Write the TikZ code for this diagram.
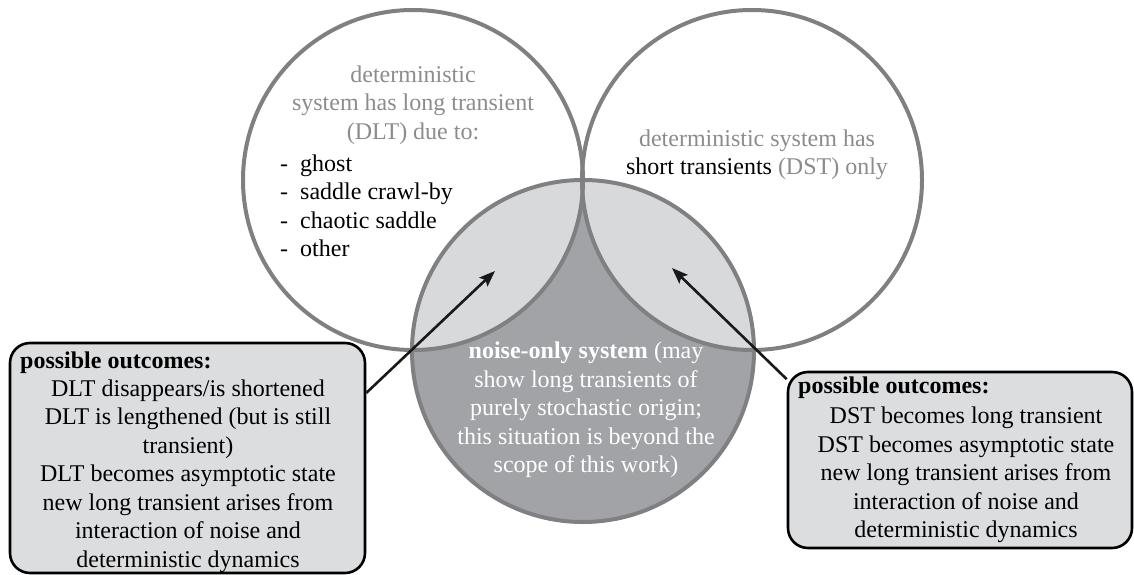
\documentclass[tikz,border=0pt]{standalone}
\usepackage{fontspec}
\setmainfont{Liberation Serif}
\usetikzlibrary{arrows.meta}
\definecolor{circline}{RGB}{128,128,131}
\definecolor{darkfill}{RGB}{161,163,166}
\definecolor{lightfill}{RGB}{216,217,219}
\definecolor{boxfill}{RGB}{220,221,222}
\definecolor{graytext}{RGB}{140,140,142}
\begin{document}
\begin{tikzpicture}[x=1pt,y=-1pt,
  circ/.style={circle, draw=circline, line width=4pt, inner sep=0pt, minimum size=#1},
  outbox/.style={draw=black, line width=2.6pt, fill=boxfill, rounded corners=20pt, inner sep=0pt},
  txt/.style={font=\fontsize{24}{28.5}\selectfont, inner sep=0pt, align=center},
  arr/.style={-{Stealth[length=16pt,width=12pt,inset=3pt]}, line width=2.6pt, draw=black!90}
]
\useasboundingbox (0,0) rectangle (1134,575);
% fills
\fill[darkfill] (583,351) circle (171pt);
\begin{scope}
  \clip (583,351) circle (171pt);
  \fill[lightfill] (413,180) circle (170pt);
  \fill[lightfill] (752,180) circle (170pt);
\end{scope}
% circle outlines
\node[circ=340pt] (cL) at (413,180) {};
\node[circ=340pt] (cR) at (752,180) {};
\node[circ=342pt] (cB) at (583,351) {};
% circle texts
\node[txt, text=graytext] (Ltitle) at (413,105) {deterministic\\system has long transient\\(DLT) due to:};
\node[txt, anchor=west, align=left] (Llist) at (280,206) {-\enspace ghost\\-\enspace saddle crawl-by\\-\enspace chaotic saddle\\-\enspace other};
\node[txt, text=graytext] (Rtitle) at (757,155) {deterministic system has\\\textcolor{black}{short transients} (DST) only};
\node[txt, text=white] (Ntext) at (586,410) {\textbf{noise-only system} (may\\show long transients of\\purely stochastic origin;\\this situation is beyond the\\scope of this work)};
% boxes
\node[outbox, minimum width=355pt, minimum height=230pt] (lbox) at (187.5,458) {};
\node[outbox, minimum width=344pt, minimum height=176pt] (rbox) at (960,460) {};
\node[txt, anchor=west, font=\fontsize{24}{28.5}\selectfont\bfseries] (lhead) at (20,363) {possible outcomes:};
\node[txt] (ltext) at (188,476) {DLT disappears/is shortened\\DLT is lengthened (but is still\\transient)\\DLT becomes asymptotic state\\new long transient arises from\\interaction of noise and\\deterministic dynamics};
\node[txt, anchor=west, font=\fontsize{24}{28.5}\selectfont\bfseries] (rhead) at (798,388) {possible outcomes:};
\node[txt] (rtext) at (966,475) {DST becomes long transient\\DST becomes asymptotic state\\new long transient arises from\\interaction of noise and\\deterministic dynamics};
% arrows
\coordinate (tipL) at (495,271);
\coordinate (tipR) at (672,268);
\draw[arr] (lbox.20) -- (tipL);
\draw[arr] (rbox.155) -- (tipR);
\end{tikzpicture}
\end{document}
